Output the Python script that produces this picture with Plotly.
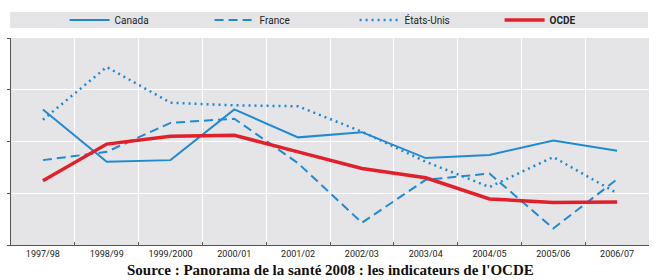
import plotly.graph_objects as go

years = ["1997/98", "1998/99", "1999/2000", "2000/01", "2001/02",
         "2002/03", "2003/04", "2004/05", "2005/06", "2006/07"]
canada = [13.1, 8.05, 8.2, 13.1, 10.4, 10.9, 8.4, 8.7, 10.1, 9.1]
france = [8.2, 9.0, 11.8, 12.2, 7.9, 2.15, 6.3, 6.9, 1.6, 6.35]
etats_unis = [12.1, 17.2, 13.75, 13.5, 13.4, 10.95, 8.05, 5.6, 8.5, 5.0]
ocde = [6.2, 9.75, 10.5, 10.6, 9.0, 7.4, 6.5, 4.45, 4.1, 4.15]
y_ticks = [0, 5, 10, 15, 20]

blue = "#1f8ad2"
red = "#e0202a"
narrow = "Liberation Sans Narrow, Arial Narrow, Roboto, sans-serif"

fig = go.Figure()
fig.add_trace(go.Scatter(x=years, y=canada, mode="lines", name="Canada",
                         line=dict(color=blue, width=2)))
fig.add_trace(go.Scatter(x=years, y=france, mode="lines", name="France",
                         line=dict(color=blue, width=2, dash="9px,5px")))
fig.add_trace(go.Scatter(x=years, y=etats_unis, mode="lines", name="États-Unis",
                         line=dict(color=blue, width=2.5, dash="2px,4px")))
fig.add_trace(go.Scatter(x=years, y=ocde, mode="lines", name="<b>OCDE</b>",
                         line=dict(color=red, width=3.5)))

fig.update_layout(
    width=658, height=280,
    margin=dict(l=11, r=9, t=38, b=35),
    paper_bgcolor="white",
    plot_bgcolor="#e5e5e7",
    font=dict(family=narrow, size=10, color="#222"),
    showlegend=True,
    legend=dict(orientation="h", x=0.084, xanchor="left",
                yref="container", y=1 - 20 / 280, yanchor="middle",
                bgcolor="rgba(0,0,0,0)", font=dict(family=narrow, size=10, color="#222"),
                entrywidth=90, entrywidthmode="pixels", itemwidth=40,
                traceorder="normal"),
    shapes=[dict(type="rect", xref="paper", yref="paper",
                 x0=-0.0016, x1=0.9984, y0=(245 - 28) / 207, y1=(245 - 12) / 207,
                 fillcolor="#e5e5e7", line=dict(width=0), layer="below")],
    annotations=[dict(text="<b>Source : Panorama de la santé 2008 : les indicateurs de l'OCDE</b>",
                      xref="paper", yref="paper", x=0.50, y=-35 / 207,
                      xanchor="center", yanchor="bottom", showarrow=False,
                      font=dict(family="Liberation Serif, DejaVu Serif, serif",
                                size=15, color="#111"))],
)
fig.update_xaxes(type="category", tickson="boundaries", showgrid=True,
                 gridcolor="white", gridwidth=1, showline=True, linecolor="#555",
                 linewidth=1, ticks="inside", ticklen=3, tickcolor="#555",
                 tickfont=dict(family=narrow, size=9, color="#222"),
                 range=[-0.5, 9.5], zeroline=False, automargin=False)
fig.update_yaxes(range=[0, 20], tickvals=y_ticks, showgrid=True, gridcolor="white",
                 gridwidth=1, showline=True, linecolor="#555", linewidth=1,
                 ticks="outside", ticklen=3, tickcolor="#555", zeroline=False,
                 ticklabelstandoff=6, tickfont=dict(size=10, color="#222"),
                 automargin=False)

fig.write_html("out.html")
